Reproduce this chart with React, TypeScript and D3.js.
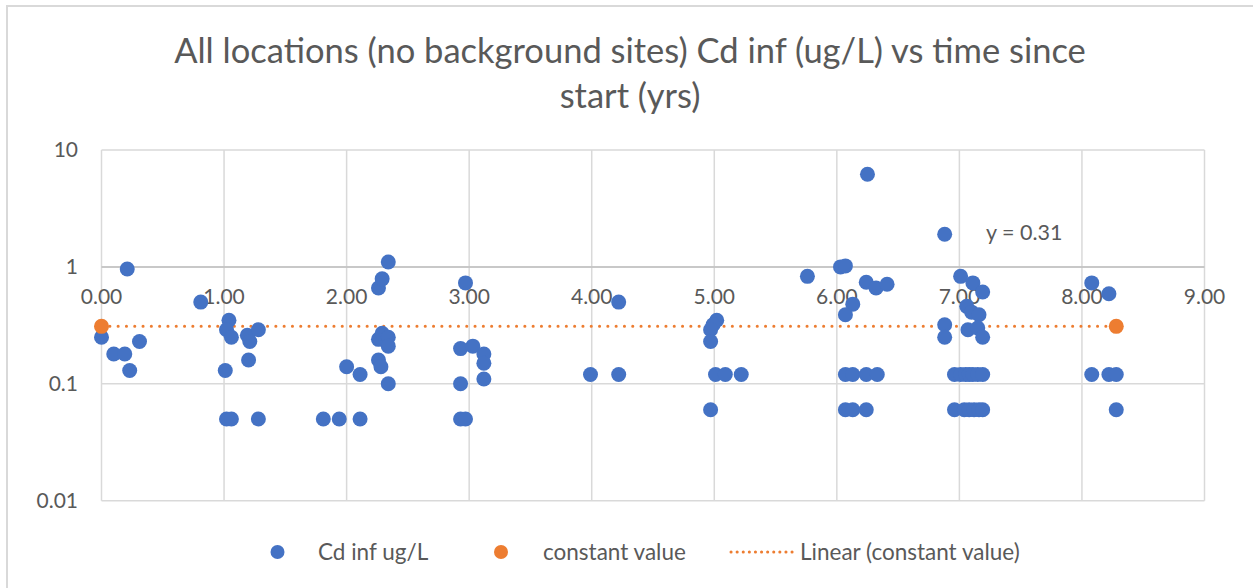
import * as d3 from 'd3';

// Cd inf ug/L samples (x = years since start)
const timeYears = [
  0.0, 0.21, 0.10, 0.19, 0.23, 0.31, 0.81,
  1.04, 1.02, 1.06, 1.01, 1.02, 1.06, 1.28, 1.19, 1.21, 1.28, 1.20,
  1.81, 1.94, 2.11, 2.00, 2.11, 2.26, 2.29, 2.34, 2.26, 2.29, 2.34, 2.34, 2.26, 2.28, 2.34,
  2.97, 2.93, 3.03, 3.12, 3.12, 3.12, 2.93, 2.93, 2.97,
  3.99, 4.22, 4.22,
  5.02, 4.99, 4.97, 4.97, 5.01, 5.09, 5.22, 4.97,
  5.76, 6.03, 6.07, 6.25, 6.24, 6.32, 6.41, 6.13, 6.07,
  6.07, 6.13, 6.24, 6.33, 6.07, 6.13, 6.24,
  6.88, 6.88, 6.88, 7.01, 7.11, 7.19, 7.06, 7.10, 7.16, 7.07, 7.15, 7.19,
  6.96, 7.01, 7.05, 7.08, 7.11, 7.15, 7.19,
  6.96, 7.04, 7.08, 7.12, 7.16, 7.19,
  8.08, 8.22, 8.08, 8.22, 8.28, 8.28,
];
const cdInf = [
  0.25, 0.96, 0.18, 0.18, 0.13, 0.23, 0.5,
  0.35, 0.29, 0.25, 0.13, 0.05, 0.05, 0.05, 0.26, 0.23, 0.29, 0.16,
  0.05, 0.05, 0.05, 0.14, 0.12, 0.66, 0.79, 1.1, 0.24, 0.27, 0.25, 0.21, 0.16, 0.14, 0.1,
  0.73, 0.2, 0.21, 0.18, 0.15, 0.11, 0.1, 0.05, 0.05,
  0.12, 0.12, 0.5,
  0.35, 0.32, 0.29, 0.23, 0.12, 0.12, 0.12, 0.06,
  0.83, 1.0, 1.02, 6.2, 0.74, 0.66, 0.71, 0.48, 0.39,
  0.12, 0.12, 0.12, 0.12, 0.06, 0.06, 0.06,
  1.9, 0.32, 0.25, 0.83, 0.73, 0.61, 0.46, 0.41, 0.39, 0.29, 0.3, 0.25,
  0.12, 0.12, 0.12, 0.12, 0.12, 0.12, 0.12,
  0.06, 0.06, 0.06, 0.06, 0.06, 0.06,
  0.73, 0.59, 0.12, 0.12, 0.12, 0.06,
];

// constant value series and its linear trendline
const constTime = [0.0, 8.28];
const constValue = [0.31, 0.31];

const xTicks = [0, 1, 2, 3, 4, 5, 6, 7, 8, 9];
const yTicks = [0.01, 0.1, 1, 10];
const yTickLabels = ['0.01', '0.1', '1', '10'];

const titleLines = ['All locations (no background sites) Cd inf (ug/L) vs time since', 'start (yrs)'];
const legendLabels = ['Cd inf ug/L', 'constant value', 'Linear (constant value)'];

const W = 1253;
const H = 588;
const BLUE = '#4472C4';
const ORANGE = '#ED7D31';
const GRID = '#d9d9d9';
const TEXT = '#595959';
const FONT = 'Lato, "Open Sans", sans-serif';

export default function App() {
  const x = d3.scaleLinear().domain([0, 9]).range([101.5, 1204.5]);
  const y = d3.scaleLog().domain([0.01, 10]).range([500.7, 150]);

  const trend = d3.line<number>()
    .x((_, i) => x(constTime[i]))
    .y((d) => y(d));

  return (
    <div style={{ position: 'fixed', left: 0, top: 0 }}>
      <svg width={W} height={H} style={{ display: 'block', background: '#fff' }} fontFamily={FONT}>
        {/* chart frame */}
        <rect x={7} y={6} width={W + 10} height={H + 10} fill="none" stroke={GRID} strokeWidth={2} />

        {/* title */}
        {titleLines.map((t, i) => (
          <text key={i} x={630} y={63 + i * 45} textAnchor="middle" fontSize={34.5} fill={TEXT}>{t}</text>
        ))}

        {/* gridlines */}
        {yTicks.map((v) => (
          <line key={'gy' + v} x1={x(0)} x2={x(9)} y1={y(v)} y2={y(v)} stroke={GRID} strokeWidth={1.5} />
        ))}
        {xTicks.map((v) => (
          <line key={'gx' + v} x1={x(v)} x2={x(v)} y1={y(10)} y2={y(0.01)} stroke={GRID} strokeWidth={1.5} />
        ))}
        {/* x axis crosses at y = 1 */}
        <line x1={x(0)} x2={x(9)} y1={y(1)} y2={y(1)} stroke="#bfbfbf" strokeWidth={1.5} />

        {/* y tick labels */}
        {yTicks.map((v, i) => (
          <text key={'ly' + v} x={78} y={y(v)} dy="0.35em" textAnchor="end" fontSize={21} fill={TEXT}>{yTickLabels[i]}</text>
        ))}
        {/* x tick labels */}
        {xTicks.map((v) => (
          <text key={'lx' + v} x={x(v)} y={y(1) + 30} dy="0.35em" textAnchor="middle" fontSize={21} fill={TEXT}>{d3.format('.2f')(v)}</text>
        ))}

        {/* trendline */}
        <path d={trend(constValue) || ''} fill="none" stroke={ORANGE} strokeWidth={3} strokeDasharray="0.1 8.2" strokeLinecap="round" />

        {/* Cd inf points */}
        {cdInf.map((v, i) => (
          <circle key={'p' + i} cx={x(timeYears[i])} cy={y(v)} r={7.5} fill={BLUE} />
        ))}
        {/* constant value points */}
        {constValue.map((v, i) => (
          <circle key={'c' + i} cx={x(constTime[i])} cy={y(v)} r={7.5} fill={ORANGE} />
        ))}

        {/* trendline equation */}
        <text x={986} y={232} dy="0.35em" fontSize={21.5} fill={TEXT}>y = 0.31</text>

        {/* legend */}
        <g fontSize={22.5} fill={TEXT}>
          <circle cx={277.5} cy={552} r={7} fill={BLUE} />
          <text x={318} y={552} dy="0.35em">{legendLabels[0]}</text>
          <circle cx={501} cy={552} r={7} fill={ORANGE} />
          <text x={543} y={552} dy="0.35em">{legendLabels[1]}</text>
          <line x1={731} x2={797} y1={552} y2={552} stroke={ORANGE} strokeWidth={3} strokeDasharray="0.1 6" strokeLinecap="round" />
          <text x={800} y={552} dy="0.35em">{legendLabels[2]}</text>
        </g>
      </svg>
    </div>
  );
}
